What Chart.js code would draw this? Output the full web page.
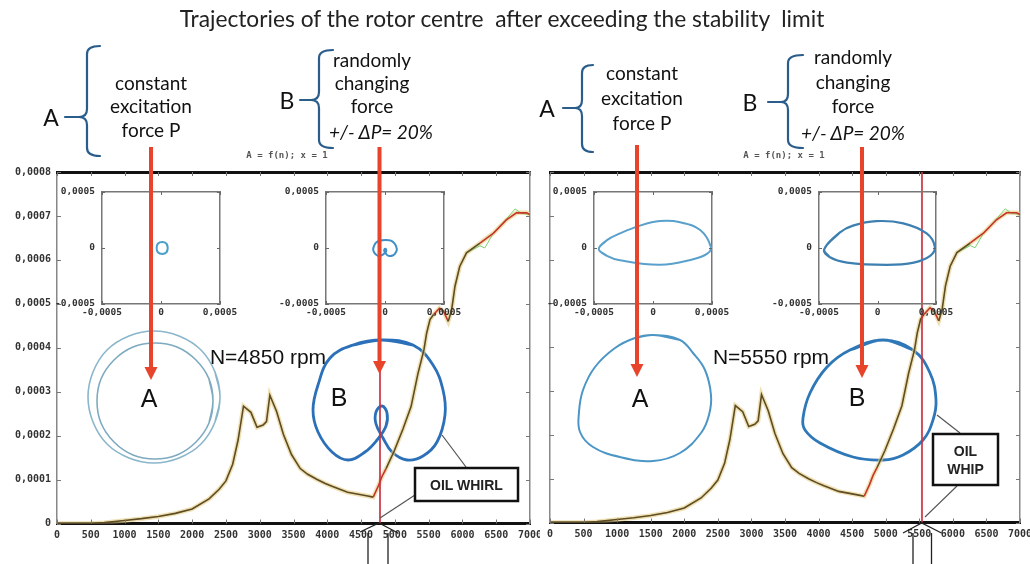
<!DOCTYPE html>
<html>
<head>
<meta charset="utf-8">
<script src="https://cdn.jsdelivr.net/npm/chart.js@4.4.1/dist/chart.umd.min.js"></script>
<style>
  html,body{margin:0;padding:0;background:#fff;}
  body{width:1030px;height:564px;position:relative;overflow:hidden;}
  canvas{position:absolute;}
  svg{position:absolute;left:0;top:0;z-index:3;}
  .t{position:absolute;transform:translate(-50%,-50%);white-space:pre;line-height:1;z-index:4;color:#111;}
  .lato{font-family:Lato,"Noto Sans",sans-serif;font-size:19px;}
  .big{font-family:Lato,"Noto Sans",sans-serif;font-size:23px;}
  .ar{font-family:"Liberation Sans",Arial,sans-serif;}
  .hdr{font-family:"DejaVu Sans Mono",monospace;font-weight:bold;font-size:9px;color:#555;}
  .box{font-family:"Liberation Sans",Arial,sans-serif;font-weight:bold;font-size:14px;color:#222;}
</style>
</head>
<body>
<canvas id="mainL" width="540" height="564" style="left:0;top:0;z-index:1"></canvas>
<canvas id="mainR" width="490" height="564" style="left:540px;top:0;z-index:1"></canvas>
<canvas id="insL1" width="193" height="146" style="left:47px;top:180px;z-index:2"></canvas>
<canvas id="insL2" width="193" height="146" style="left:271px;top:180px;z-index:2"></canvas>
<canvas id="insR1" width="193" height="146" style="left:539px;top:180px;z-index:2"></canvas>
<canvas id="insR2" width="192" height="146" style="left:764px;top:180px;z-index:2"></canvas>

<svg width="1030" height="564" viewBox="0 0 1030 564">
  <!-- braces -->
  <g fill="none" stroke="#2b5d8c" stroke-width="2.2" stroke-linecap="round" stroke-linejoin="round">
    <path d="M100,46 Q87,46 87,54 L87,109 Q87,117 79,117 Q87,117 87,125 L87,148 Q87,156 100,156"/>
    <line x1="65" y1="117" x2="79" y2="117"/>
    <path d="M333,50 Q319,50 319,58 L319,92 Q319,100 311,100 Q319,100 319,108 L319,140 Q319,148 333,148"/>
    <line x1="300" y1="100" x2="311" y2="100"/>
    <path d="M593,65 Q582,65 582,73 L582,100 Q582,108 575,108 Q582,108 582,116 L582,144 Q582,152 593,152"/>
    <line x1="563" y1="108" x2="575" y2="108"/>
    <path d="M803,55 Q788,55 788,63 L788,94 Q788,102 781,102 Q788,102 788,110 L788,140 Q788,148 803,148"/>
    <line x1="768" y1="102" x2="781" y2="102"/>
  </g>
  <!-- red arrows -->
  <g stroke="#e8432b" stroke-width="4">
    <line x1="151" y1="147" x2="151" y2="370"/>
    <line x1="379.5" y1="147" x2="379.5" y2="364"/>
    <line x1="637" y1="145" x2="637" y2="367"/>
    <line x1="862" y1="147" x2="862" y2="368"/>
  </g>
  <g fill="#e8432b">
    <polygon points="144.5,367 157.5,367 151,380"/>
    <polygon points="373,361 386,361 379.5,374"/>
    <polygon points="630.5,364 643.5,364 637,377"/>
    <polygon points="855.5,365 868.5,365 862,378"/>
  </g>
  <!-- OIL WHIRL / OIL WHIP boxes and leaders -->
  <g stroke="#555" stroke-width="1.2" fill="none">
    <line x1="415" y1="495" x2="380" y2="518"/>
    <line x1="466" y1="467" x2="442" y2="435"/>
    <line x1="960" y1="433" x2="937" y2="415"/>
    <line x1="957" y1="486" x2="925" y2="517"/>
  </g>
  <rect x="415" y="468" width="103" height="33" fill="#fff" stroke="#111" stroke-width="2.5"/>
  <rect x="933" y="434" width="65" height="51" fill="#fff" stroke="#111" stroke-width="2.5"/>
  <!-- hollow arrows under the axis -->
  <g stroke="#222" stroke-width="1.3" fill="none">
    <polyline points="360,532 379,523 398,533"/>
    <line x1="368" y1="533" x2="368" y2="564"/>
    <line x1="388" y1="533" x2="388" y2="564"/>
    <polyline points="903,533 921.7,523 941.5,533"/>
    <line x1="913" y1="533" x2="913" y2="564"/>
    <line x1="931.5" y1="533" x2="931.5" y2="564"/>
  </g>
</svg>

<div id="title" class="t lato" style="left:502px;top:19px;font-size:20px;color:#222;">Trajectories of the rotor centre  after exceeding the stability  limit</div>

<div class="t big" style="left:51px;top:117px;">A</div>
<div class="t lato" style="left:151px;top:82px;">constant</div>
<div class="t lato" style="left:151px;top:105px;">excitation</div>
<div class="t lato" style="left:151px;top:129px;">force P</div>
<div class="t big" style="left:287px;top:100px;">B</div>
<div class="t lato" style="left:372px;top:59px;">randomly</div>
<div class="t lato" style="left:372px;top:82px;">changing</div>
<div class="t lato" style="left:372px;top:105px;">force</div>
<div class="t lato" style="left:381px;top:131px;font-style:italic;">+/- ΔP= 20%</div>

<div class="t big" style="left:547px;top:108px;">A</div>
<div class="t lato" style="left:642px;top:72px;">constant</div>
<div class="t lato" style="left:642px;top:97px;">excitation</div>
<div class="t lato" style="left:642px;top:122px;">force P</div>
<div class="t big" style="left:750px;top:102px;">B</div>
<div class="t lato" style="left:853px;top:56px;">randomly</div>
<div class="t lato" style="left:853px;top:81px;">changing</div>
<div class="t lato" style="left:853px;top:105px;">force</div>
<div class="t lato" style="left:853px;top:132px;font-style:italic;">+/- ΔP= 20%</div>

<div class="t hdr" style="left:287px;top:155px;">A = f(n); x = 1</div>
<div class="t hdr" style="left:784px;top:155px;">A = f(n); x = 1</div>

<div class="t ar" style="left:268px;top:356px;font-size:21px;">N=4850 rpm</div>
<div class="t ar" style="left:771px;top:356px;font-size:21px;">N=5550 rpm</div>
<div class="t ar" style="left:149px;top:398px;font-size:25px;">A</div>
<div class="t ar" style="left:339px;top:397px;font-size:25px;">B</div>
<div class="t ar" style="left:640px;top:398px;font-size:25px;">A</div>
<div class="t ar" style="left:857px;top:397px;font-size:25px;">B</div>

<div class="t box" style="left:466.5px;top:485px;">OIL WHIRL</div>
<div class="t box" style="left:965.5px;top:451px;">OIL</div>
<div class="t box" style="left:965.5px;top:469px;">WHIP</div>

<script>
// ================= DATA =================
// amplitude response A = f(n)
const rpm = [0,500,700,1000,1250,1500,1750,2000,2250,2400,2500,2600,2680,2760,2870,2960,3050,3100,3150,3250,3350,3470,3600,3710,3850,3970,4080,4300,4580,4680,4760,4810,4870,4990,5120,5240,5340,5430,5470,5520,5570,5660,5720,5790,5840,5890,5960,6060,6260,6460,6650,6800,6950,7000];
const amplitude = [0,0,0.000002,0.000007,0.000011,0.000016,0.000023,0.000033,0.000056,0.000078,0.000097,0.000135,0.00019,0.000267,0.000253,0.000219,0.000224,0.000232,0.000292,0.000255,0.000203,0.000157,0.000125,0.000112,0.0001,0.000091,0.000084,0.000071,0.000063,0.00006,0.000087,0.000107,0.000125,0.000165,0.000215,0.000266,0.00034,0.000395,0.000433,0.000464,0.000475,0.00049,0.000483,0.00046,0.000486,0.00054,0.000585,0.000616,0.000638,0.000661,0.000691,0.000707,0.000707,0.000703];
// second (green) trace near the top
const greenRpm = [6060,6260,6330,6460,6650,6780,6870,7000];
const greenAmp = [0.000616,0.000632,0.000627,0.000661,0.000693,0.000716,0.000706,0.000703];
// marked speeds (vertical lines)
const markRpmLeft = [4780,4780];
const markRpmRight = [5540,5540];
const markAmp = [0,0.0008];
// axis ticks
const xTickStep = 500;
const yTickStep = 0.0001;
const orbitTickStep = 0.0005;

// inset orbits [m] (closed loops, first/last points overlap)
const insetAL_x = [0.000047,0.000057,0.000047,0.00001,-0.000027,-0.000037,-0.000027,0.00001,0.000047,0.000057,0.000047];
const insetAL_y = [-0.000038,0,0.000038,0.000054,0.000038,0,-0.000038,-0.000054,-0.000038,0,0.000038];
const insetBL_x = [-0.00004,0.000003,0.00005,0.00008,0.000095,0.0001,0.000085,0.000065,0.00004,0.000018,0.000005,-0.000006,-0.000006,0.000003,0.00001,0.000009,-0.000005,-0.000022,-0.000048,-0.000072,-0.000093,-0.0001,-0.000093,-0.000075,-0.00004,0.000003,0.00005];
const insetBL_y = [0.000066,0.000072,0.000066,0.000042,0.000012,-0.000018,-0.00005,-0.000067,-0.000072,-0.000062,-0.000046,-0.000029,-0.000014,-0.000007,-0.000016,-0.000031,-0.000048,-0.000062,-0.000072,-0.000062,-0.000038,-0.000012,0.000018,0.00005,0.000066,0.000072,0.000066];
const insetAR_x = [-0.00039,-0.00046,-0.00039,-0.00028,-0.00011,0.00006,0.00023,0.0004,0.00049,0.00046,0.00034,0.00006,-0.00028,-0.00039,-0.00046,-0.00039];
const insetAR_y = [-0.00007,-0.00001,0.00007,0.00013,0.0002,0.00024,0.00023,0.00016,0.00001,-0.00005,-0.0001,-0.00015,-0.00011,-0.00007,-0.00001,0.00007];
const insetBR_x = [-0.00041,-0.000455,-0.00032,-0.00021,-0.00001,0.00022,0.00042,0.00049,0.00045,0.00031,0.00008,-0.00026,-0.00041,-0.000455,-0.00032];
const insetBR_y = [-0.00008,-0.00001,0.00014,0.0002,0.00024,0.00022,0.00013,0.00001,-0.00007,-0.00013,-0.00015,-0.00013,-0.00008,-0.00001,0.00014];

// enlarged orbits [µm, relative to orbit centre] (closed loops, first/last points overlap)
const bigAL1_x = [61,66,61,47,25,0,-25,-47,-61,-66,-61,-47,-25,0,25,47,61,66,61];
const bigAL1_y = [-22,3,28,50,64,69,64,50,28,3,-22,-44,-58,-63,-58,-44,-22,3,28];
const bigAL2_x = [55,59,55,42,23,1,-21,-40,-53,-57,-53,-40,-21,1,23,42,55,59,55];
const bigAL2_y = [-23,-1,21,40,53,57,53,40,21,-1,-23,-42,-55,-59,-55,-42,-23,-1,21];
const bigBL_x = [-27,2,33,53,63,65,57,43,27,12,3,-4,-4,2,7,6,-3,-15,-32,-48,-62,-67,-62,-50,-27,2,33];
const bigBL_y = [55,60,55,35,10,-15,-42,-56,-60,-52,-38,-24,-12,-6,-13,-26,-40,-52,-60,-52,-32,-10,15,42,55,60,55];
const bigAR_x = [-10,8,35,48,60,66,64,56,35,8,-25,-52,-65,-66,-62,-50,-30,-10,8,35];
const bigAR_y = [62,65,60,47,30,5,-15,-33,-53,-61,-57,-47,-32,-12,10,33,52,62,65,60];
const bigBR_x = [-20,13,43,60,66,63,53,33,13,-17,-50,-65,-67,-60,-43,-20,13,43];
const bigBR_y = [50,60,50,27,0,-20,-40,-55,-60,-57,-43,-30,-18,7,33,50,60,50];

// ================= HELPERS =================
const zipXY = (xs, ys) => xs.map((x, i) => ({x: x, y: ys[i]}));
const fmt = v => (Math.abs(v) < 1e-12 ? '0' : Number(v).toFixed(4).replace('.', ','));
const axisFont = {family: "'DejaVu Sans Mono', monospace", size: 10, weight: 'bold'};
const insetFont = {family: "'DejaVu Sans Mono', monospace", size: 9.5, weight: 'bold'};

const innerTicks = {
  id: 'innerTicks',
  afterDraw(chart, args, opts) {
    const a = chart.chartArea, ctx = chart.ctx, L = opts.len || 4;
    const sx = chart.scales.x, sy = chart.scales.y;
    ctx.save();
    ctx.strokeStyle = opts.color || '#777';
    ctx.lineWidth = 1;
    ctx.beginPath();
    sx.ticks.forEach(t => {
      const p = Math.round(sx.getPixelForValue(t.value)) + 0.5;
      ctx.moveTo(p, a.bottom); ctx.lineTo(p, a.bottom - L);
      ctx.moveTo(p, a.top); ctx.lineTo(p, a.top + L);
    });
    sy.ticks.forEach(t => {
      const p = Math.round(sy.getPixelForValue(t.value)) + 0.5;
      ctx.moveTo(a.left, p); ctx.lineTo(a.left + L, p);
      ctx.moveTo(a.right, p); ctx.lineTo(a.right - L, p);
    });
    ctx.stroke();
    ctx.restore();
  }
};
Chart.register(innerTicks);

const redRanges = [[4680, 4870], [5570, 5790], [6260, 7000]];
const isRed = (a, b) => redRanges.some(r => a >= r[0] && b <= r[1]);

function mainChart(id, cfg) {
  const a = cfg.area;
  const noGrid = {drawOnChartArea: false, drawTicks: false};
  const scales = {
    x: {type: 'linear', min: 0, max: 7000,
        ticks: {stepSize: xTickStep, autoSkip: false, maxRotation: 0, font: axisFont, color: '#333', padding: 6, callback: v => String(v)},
        grid: noGrid, border: {color: '#111', width: 3},
        afterFit(s) { s.height = cfg.xH; s.paddingLeft = 0; s.paddingRight = 0; }},
    y: {type: 'linear', min: 0, max: 0.0008,
        ticks: {stepSize: yTickStep, display: cfg.showY, font: axisFont, color: '#333', padding: 6, callback: fmt},
        grid: noGrid, border: {color: '#888', width: 1.5},
        afterFit(s) { s.width = cfg.yW; s.paddingTop = 0; s.paddingBottom = 0; }},
    xTop: {type: 'linear', axis: 'x', position: 'top', min: 0, max: 7000, ticks: {display: false},
        grid: noGrid, border: {color: '#111', width: 3}, afterFit(s) { s.height = 0; }},
    yRight: {type: 'linear', axis: 'y', position: 'right', min: 0, max: 0.0008, ticks: {display: false},
        grid: noGrid, border: {color: '#888', width: 1.5}, afterFit(s) { s.width = 0; }}
  };
  Object.keys(cfg.frames).forEach(k => {
    const f = cfg.frames[k];
    scales['xOrb' + k] = {type: 'linear', axis: 'x', display: false, min: -(f.cx - a.left), max: a.right - f.cx};
    scales['yOrb' + k] = {type: 'linear', axis: 'y', display: false, min: -(a.bottom - f.cy), max: f.cy - a.top};
  });
  const curve = zipXY(rpm, amplitude);
  const datasets = [
    {data: zipXY(cfg.markRpm, markAmp), borderColor: 'rgba(200,50,65,0.85)', borderWidth: 2, pointRadius: 0, order: 0},
    {data: curve, borderColor: '#5e4c24', borderWidth: 1.6, pointRadius: 0, tension: 0, order: 1,
      segment: {borderColor: c => isRed(c.p0.parsed.x, c.p1.parsed.x) ? '#c8342a' : undefined}},
    {data: zipXY(greenRpm, greenAmp), borderColor: '#7ccf6e', borderWidth: 1, pointRadius: 0, order: 2},
    {data: curve, borderColor: 'rgba(228,205,130,0.6)', borderWidth: 4.5, pointRadius: 0, order: 3}
  ];
  cfg.orbits.forEach(o => datasets.push({
    data: zipXY(o.x, o.y), xAxisID: 'xOrb' + o.frame, yAxisID: 'yOrb' + o.frame,
    borderColor: o.color, borderWidth: o.width, pointRadius: 0, tension: 0.4, order: 4
  }));
  return new Chart(document.getElementById(id), {
    type: 'line',
    data: {datasets: datasets},
    options: {
      responsive: false, animation: false, devicePixelRatio: 1,
      layout: {padding: {top: 172, right: cfg.padR, left: 0, bottom: 0}},
      plugins: {legend: {display: false}, tooltip: {enabled: false}, innerTicks: {len: 4, color: '#777'}},
      scales: scales
    }
  });
}

function insetChart(id, xs, ys, color, width) {
  const noGrid = {drawOnChartArea: false, drawTicks: false};
  const tk = {stepSize: orbitTickStep, autoSkip: false, maxRotation: 0, font: insetFont, color: '#333', callback: fmt};
  return new Chart(document.getElementById(id), {
    type: 'line',
    data: {datasets: [{data: zipXY(xs, ys), borderColor: color, borderWidth: width, pointRadius: 0, tension: 0.4}]},
    options: {
      responsive: false, animation: false, devicePixelRatio: 1,
      layout: {padding: {top: 12, right: 20, left: 0, bottom: 0}},
      plugins: {legend: {display: false}, tooltip: {enabled: false}, innerTicks: {len: 3, color: '#666'}},
      scales: {
        x: {type: 'linear', min: -0.0005, max: 0.0005, ticks: Object.assign({padding: 3}, tk), grid: noGrid,
            border: {color: '#777', width: 1.5}, afterFit(s) { s.height = 22; s.paddingLeft = 0; s.paddingRight = 0; }},
        y: {type: 'linear', min: -0.0005, max: 0.0005, ticks: Object.assign({padding: 7}, tk), grid: noGrid,
            border: {color: '#777', width: 1.5}, afterFit(s) { s.width = 55; s.paddingTop = 0; s.paddingBottom = 0; }},
        xTop: {type: 'linear', axis: 'x', position: 'top', min: -0.0005, max: 0.0005, ticks: {display: false}, grid: noGrid,
            border: {color: '#777', width: 1.5}, afterFit(s) { s.height = 0; }},
        yRight: {type: 'linear', axis: 'y', position: 'right', min: -0.0005, max: 0.0005, ticks: {display: false}, grid: noGrid,
            border: {color: '#777', width: 1.5}, afterFit(s) { s.width = 0; }}
      }
    }
  });
}

// ================= CHARTS =================
mainChart('mainL', {
  area: {left: 57, right: 530, top: 172, bottom: 523.5},
  yW: 57, xH: 40.5, padR: 10, showY: true, markRpm: markRpmLeft,
  frames: {A: {cx: 154, cy: 400}, B: {cx: 380, cy: 400}},
  orbits: [
    {frame: 'A', x: bigAL1_x, y: bigAL1_y, color: '#8ab6cb', width: 1.6},
    {frame: 'A', x: bigAL2_x, y: bigAL2_y, color: '#7eaac0', width: 1.6},
    {frame: 'B', x: bigBL_x, y: bigBL_y, color: '#2b70b8', width: 2.8}
  ]
});
mainChart('mainR', {
  area: {left: 10, right: 480, top: 172, bottom: 522.5},
  yW: 10, xH: 41.5, padR: 10, showY: false, markRpm: markRpmRight,
  frames: {A: {cx: 105, cy: 400}, B: {cx: 330, cy: 400}},
  orbits: [
    {frame: 'A', x: bigAR_x, y: bigAR_y, color: '#4c96c6', width: 2},
    {frame: 'B', x: bigBR_x, y: bigBR_y, color: '#2f78b8', width: 2.8}
  ]
});
insetChart('insL1', insetAL_x, insetAL_y, '#4aa0c8', 2);
insetChart('insL2', insetBL_x, insetBL_y, '#3f8fc6', 2);
insetChart('insR1', insetAR_x, insetAR_y, '#5aa0cc', 2);
insetChart('insR2', insetBR_x, insetBR_y, '#3c7fb0', 2.2);

// fit the headline to the reference width
(function () {
  const el = document.getElementById('title');
  const w = el.getBoundingClientRect().width;
  if (w > 0) el.style.fontSize = (20 * 645 / w).toFixed(2) + 'px';
})();
</script>
</body>
</html>
